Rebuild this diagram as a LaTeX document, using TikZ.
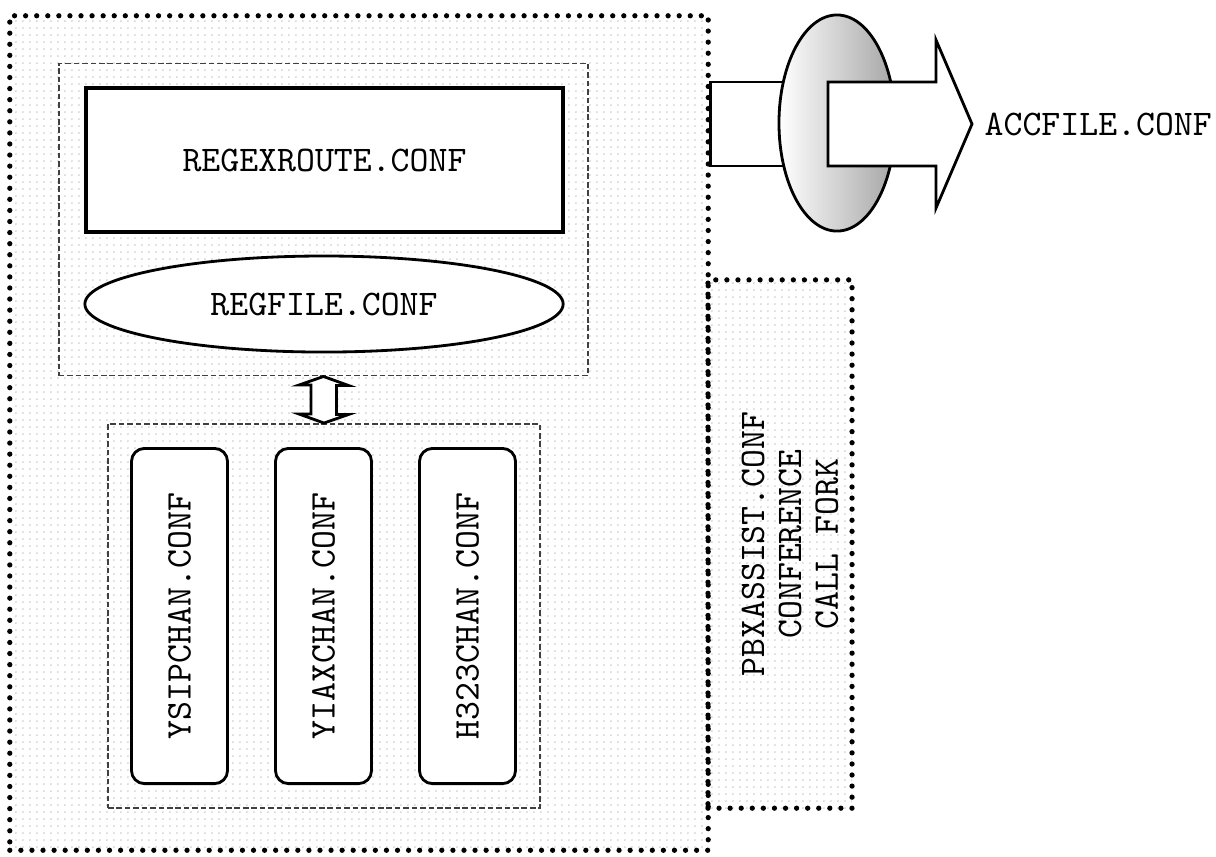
\documentclass[tikz,border=0pt]{standalone}
\usepackage{fontspec}
\usepackage{tikz}
\usetikzlibrary{positioning,shapes.geometric,patterns.meta,calc}
\definecolor{dotgray}{rgb}{.8,.8,.8}
\tikzdeclarepattern{
  name=fine dots,
  type=uncolored,
  bottom left={(0pt,0pt)},
  top right={(1.85pt,1.85pt)},
  tile size={(1.85pt,1.85pt)},
  code={\fill (.9pt,.9pt) circle (.3pt);}
}

\begin{document}
\begin{tikzpicture}[% all coordinates in pixels of the original drawing
					x=0.01cm, y=-0.01cm,
					every node/.style={
						align=center,
						font=\ttfamily\fontsize{10.25}{10.5}\selectfont
						},
					zone/.style={rectangle,draw=black,line width=1.5pt,dash pattern=on 0pt off 3.15pt,line cap=round,pattern={fine dots},pattern color=dotgray,inner sep=0pt},
					group/.style={rectangle,draw=black!75,line width=.5pt,dash pattern=on 1.6pt off .8pt,inner sep=0pt},
					chan/.style={rectangle,rounded corners=0.13cm,draw,line width=.8pt,fill=white,rotate=90,minimum width=3.35cm,minimum height=0.96cm},
					flow/.style={draw,line width=.8pt,fill=white,line join=miter}
					]
\useasboundingbox (0,0) rectangle (1216,856);
% dotted frames
\node[zone,minimum width=6.98cm,minimum height=8.34cm](main) at (359,433){};
\node[zone,minimum width=1.44cm,minimum height=5.28cm](pbx) at (780,544){};
\node[rotate=90](pbxtext) at (790,544){PBXASSIST.CONF\\CONFERENCE\\CALL FORK};
% upper group
\node[group,minimum width=5.29cm,minimum height=3.12cm](upper) at (323.5,219.5){};
\node[rectangle,draw,line width=1.1pt,fill=white,minimum width=4.77cm,minimum height=1.44cm](regex) at (324.5,160){REGEXROUTE.CONF};
\node[ellipse,draw,line width=.8pt,fill=white,minimum width=4.78cm,minimum height=0.96cm,inner sep=0pt](regfile) at (324,304){REGFILE.CONF};
% lower group
\node[group,minimum width=4.32cm,minimum height=3.84cm](lower) at (324,616){};
\node[chan](ysip) at (179.5,616){YSIPCHAN.CONF};
\node[chan](yiax) at (323.5,616){YIAXCHAN.CONF};
\node[chan](h323) at (467.5,616){H323CHAN.CONF};
% link between the groups
\draw[flow] (upper.south) -- ++(25,9) -- ++(-12,0) -- ++(0,29) -- ++(12,0) -- (lower.north)
	-- ++(-25,-9) -- ++(12,0) -- ++(0,-29) -- ++(-12,0) -- cycle;
% output through the ring
\coordinate (tail) at (main.east |- 0,82);
\draw[flow] (tail) -- ++(100,0) -- ++(0,84) -- ++(-100,0) -- cycle;
\node[ellipse,draw,line width=.8pt,left color=white,right color=black!35,minimum width=1.16cm,minimum height=2.16cm,inner sep=0pt](ring) at (837,123){};
\node[anchor=west,inner sep=0pt](acc) at (984,124){ACCFILE.CONF};
\coordinate (tip) at (972,124);
\draw[flow] (ring.center |- tail) ++(-9,0) -- (tail -| 936,0) -- (936,40) -- (tip) -- (936,208) -- (936,166) -- (828,166) -- cycle;
\end{tikzpicture}
\end{document}
